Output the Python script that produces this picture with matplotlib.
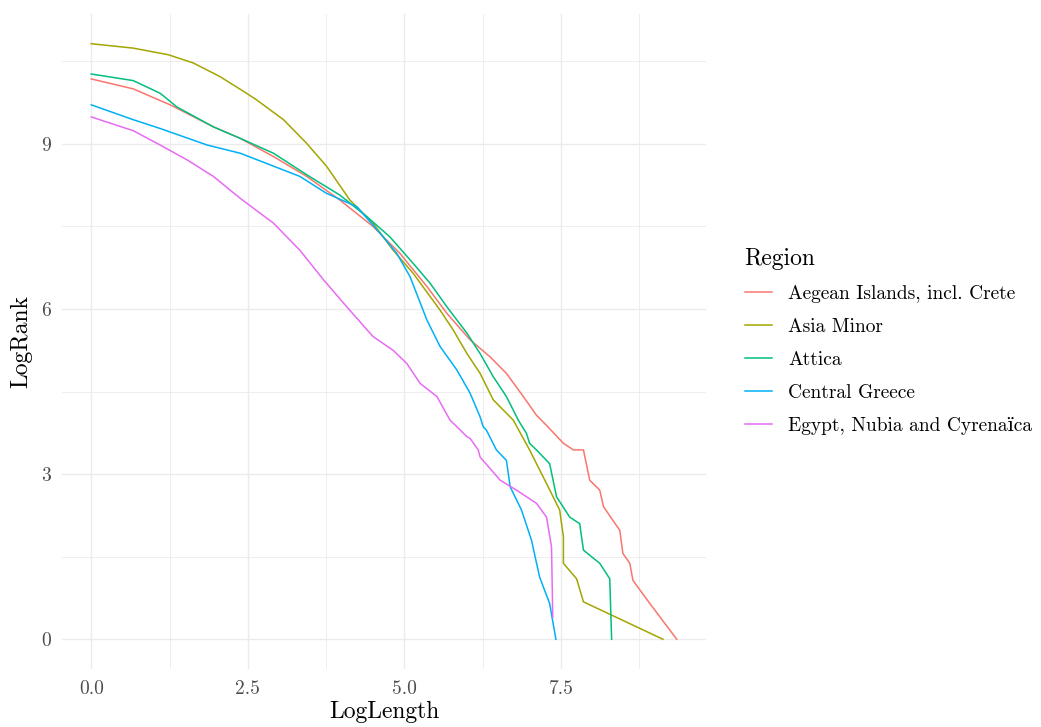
import matplotlib
matplotlib.use("Agg")
import matplotlib.pyplot as plt

plt.rcParams['font.family'] = ['cmr10', 'DejaVu Serif']
plt.rcParams['axes.formatter.use_mathtext'] = True
plt.rcParams['mathtext.fontset'] = 'cm'

# region names and colours (ggplot default hue palette)
regions = ["Aegean Islands, incl. Crete", "Asia Minor", "Attica",
           "Central Greece", "Egypt, Nubia and Cyrenaïca"]
colors = ["#F8766D", "#A3A500", "#00BF7D", "#00B0F6", "#E76BF3"]

# LogLength / LogRank
aegean_x = [0, 0.67, 1.26, 1.95, 2.38, 2.91, 3.44, 3.97, 4.50, 4.93, 5.36, 5.68,
            6.05, 6.37, 6.63, 6.90, 7.11, 7.30, 7.54, 7.70, 7.86, 7.96, 8.12, 8.18, 8.33,
            8.44, 8.49, 8.60, 8.65, 8.92, 9.35]
aegean_y = [10.18, 10.0, 9.71, 9.31, 9.10, 8.77, 8.41, 7.98, 7.50, 7.01, 6.41, 5.92,
            5.44, 5.13, 4.83, 4.41, 4.07, 3.85, 3.56, 3.44, 3.44, 2.89, 2.71, 2.41, 2.16,
            1.98, 1.56, 1.38, 1.07, 0.65, 0.0]

asia_x = [0, 0.67, 1.23, 1.63, 2.06, 2.48, 2.64, 3.07, 3.44, 3.76, 4.13, 4.50, 4.82,
          5.14, 5.57, 5.78, 6.0, 6.21, 6.42, 6.74, 7.0, 7.27, 7.48, 7.54, 7.54, 7.75,
          7.86, 9.13]
asia_y = [10.82, 10.74, 10.62, 10.47, 10.22, 9.92, 9.80, 9.44, 9.01, 8.59, 7.98, 7.56, 7.07,
          6.65, 5.98, 5.62, 5.19, 4.83, 4.35, 3.98, 3.44, 2.83, 2.35, 1.86, 1.38, 1.10,
          0.68, 0.0]

attica_x = [0, 0.67, 1.10, 1.37, 1.95, 2.38, 2.91, 3.44, 3.97, 4.40, 4.77, 5.14, 5.41,
            5.68, 6.0, 6.21, 6.42, 6.63, 6.82, 6.95, 7.0, 7.11, 7.32, 7.43, 7.64, 7.80,
            7.86, 8.12, 8.28, 8.31]
attica_y = [10.27, 10.15, 9.92, 9.67, 9.31, 9.10, 8.83, 8.44, 8.07, 7.68, 7.31, 6.83, 6.47,
            6.04, 5.56, 5.19, 4.77, 4.41, 3.98, 3.74, 3.56, 3.44, 3.19, 2.59, 2.22, 2.10,
            1.62, 1.38, 1.10, 0.0]

central_x = [0, 0.67, 1.10, 1.85, 2.38, 3.33, 3.76, 4.24, 4.61, 4.88, 5.09, 5.36, 5.57,
             5.84, 6.05, 6.21, 6.26, 6.31, 6.47, 6.63, 6.69, 6.87, 7.03, 7.16, 7.32, 7.42]
central_y = [9.71, 9.44, 9.28, 8.98, 8.83, 8.41, 8.10, 7.86, 7.38, 7.01, 6.59, 5.80, 5.32,
             4.89, 4.47, 4.04, 3.86, 3.80, 3.44, 3.25, 2.77, 2.35, 1.80, 1.13, 0.65, 0.0]

egypt_x = [0, 0.67, 1.10, 1.53, 1.95, 2.38, 2.91, 3.33, 3.71, 4.08, 4.50, 4.82, 5.04,
           5.25, 5.52, 5.73, 5.84, 6.0, 6.05, 6.18, 6.21, 6.53, 6.79, 7.11, 7.27, 7.35,
           7.37]
egypt_y = [9.49, 9.24, 8.98, 8.71, 8.41, 8.01, 7.56, 7.07, 6.53, 6.04, 5.50, 5.25, 5.01,
           4.65, 4.41, 3.98, 3.86, 3.68, 3.65, 3.44, 3.31, 2.89, 2.71, 2.47, 2.22, 1.68,
           0.40]

series_x = [aegean_x, asia_x, attica_x, central_x, egypt_x]
series_y = [aegean_y, asia_y, attica_y, central_y, egypt_y]

fig = plt.figure(figsize=(10.41, 7.27), dpi=100)
ax = fig.add_axes([62 / 1041, 1 - 669 / 727, 644 / 1041, 655 / 727])

for xs, ys, name, col in zip(series_x, series_y, regions, colors):
    ax.plot(xs, ys, color=col, lw=1.1, label=name)

ax.set_xlim(-0.467, 9.817)
ax.set_ylim(-0.54, 11.36)

ax.set_xticks([0, 2.5, 5.0, 7.5])
ax.set_xticklabels(["0.0", "2.5", "5.0", "7.5"])
ax.set_yticks([0, 3, 6, 9])
ax.set_yticklabels(["0", "3", "6", "9"])
ax.set_xticks([1.25, 3.75, 6.25, 8.75], minor=True)
ax.set_yticks([1.5, 4.5, 7.5, 10.5], minor=True)

ax.grid(which="major", color="#EBEBEB", lw=1.0)
ax.grid(which="minor", color="#EBEBEB", lw=0.6)
ax.set_axisbelow(True)
for s in ax.spines.values():
    s.set_visible(False)
ax.tick_params(which="both", length=0, labelsize=14, labelcolor="#4D4D4D")
ax.tick_params(axis="x", pad=8)
ax.tick_params(axis="y", pad=8)

ax.set_xlabel("LogLength", fontsize=17, labelpad=2)
ax.set_ylabel("LogRank", fontsize=17, labelpad=6)

leg = ax.legend(loc="upper left", bbox_to_anchor=(727 / 1041, 1 - 230 / 727),
                bbox_transform=fig.transFigure, frameon=False, fontsize=14,
                title="Region", title_fontsize=17, handlelength=1.4,
                handletextpad=0.85, labelspacing=0.78)
leg._legend_box.align = "left"

fig.savefig("out.png", dpi=100)
